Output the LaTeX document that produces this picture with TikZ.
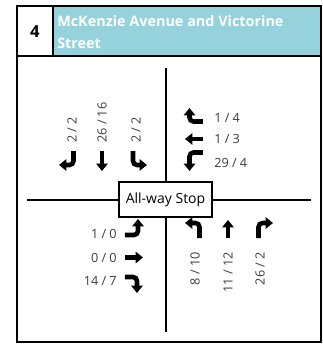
\documentclass[tikz,border=0pt]{standalone}
\usepackage{fontspec}
\setmainfont{Open Sans}
\usetikzlibrary{arrows.meta}
\definecolor{headblue}{RGB}{150,210,220}
\definecolor{cntgray}{RGB}{60,60,60}

\begin{document}
\begin{tikzpicture}[
        x=0.75pt, y=-0.75pt,
        frame/.style={line width=2pt},
        road/.style={line width=1.3pt},
        mv/.style={line width=3.4pt, -{Triangle[width=8.5pt,length=5.5pt]}, rounded corners=3pt},
        cnt/.style={font=\fontsize{9.5}{11}\selectfont, text=cntgray, inner sep=0pt},
        stopbox/.style={draw, line width=1.3pt, fill=white, font=\fontsize{10.5}{12}\selectfont, minimum width=70pt, minimum height=26pt, inner sep=1pt}
    ]
    \useasboundingbox (0,0) rectangle (323,344);

    % Header
    \fill[headblue] (53,6) rectangle (321,56);
    \draw[frame] (17,6) rectangle (321,342);
    \draw[frame] (17,56) -- (321,56);
    \draw[frame] (53,6) -- (53,56);
    \node[font=\fontsize{12.5}{14}\selectfont\bfseries] (num) at (35,32) {4};
    \node[anchor=north west, inner sep=0pt, align=left, text=white, font=\fontsize{10.8}{17}\selectfont\bfseries] (title) at (57,15) {McKenzie Avenue and Victorine\\Street};

    % Roads
    \coordinate (west) at (27,200);
    \coordinate (east) at (311,200);
    \coordinate (north) at (166,68);
    \coordinate (south) at (166,332);
    \draw[road] (west) -- (east);
    \draw[road] (north) -- (south);
    \node[stopbox] (stop) at (165.5,199.5) {All-way Stop};

    % Southbound
    \draw[mv] (73.5,151) -- (73.5,165) -- (59,165);
    \draw[mv] (102,151) -- (102,171);
    \draw[mv] (133,151) -- (133,165) -- (147,165);
    \node[cnt, rotate=90, anchor=west] (sbr) at (72,143) {2 / 2};
    \node[cnt, rotate=90, anchor=west] (sbt) at (102,143) {26 / 16};
    \node[cnt, rotate=90, anchor=west] (sbl) at (136,143) {2 / 2};

    % Westbound
    \draw[mv] (203,121.5) -- (189.5,121.5) -- (189.5,108);
    \draw[mv] (203,139) -- (185,139);
    \draw[mv] (203,152.5) -- (189.5,152.5) -- (189.5,171);
    \node[cnt, anchor=west] (wbr) at (214,118) {1 / 4};
    \node[cnt, anchor=west] (wbt) at (214,138.5) {1 / 3};
    \node[cnt, anchor=west] (wbl) at (214,162.5) {29 / 4};

    % Eastbound
    \draw[mv] (125,235) -- (138,235) -- (138,219);
    \draw[mv] (125,257.5) -- (143,257.5);
    \draw[mv] (125,277) -- (137,277) -- (137,293);
    \node[cnt, anchor=east] (ebl) at (117,234) {1 / 0};
    \node[cnt, anchor=east] (ebt) at (117,258) {0 / 0};
    \node[cnt, anchor=east] (ebr) at (117,281) {14 / 7};

    % Northbound
    \draw[mv] (199.5,238) -- (199.5,223) -- (185,223);
    \draw[mv] (228,238) -- (228,220);
    \draw[mv] (258.5,238) -- (258.5,223) -- (273,223);
    \node[cnt, rotate=90, anchor=east] (nbl) at (195,252) {8 / 10};
    \node[cnt, rotate=90, anchor=east] (nbt) at (228,252) {11 / 12};
    \node[cnt, rotate=90, anchor=east] (nbr) at (260,252) {26 / 2};
\end{tikzpicture}
\end{document}
